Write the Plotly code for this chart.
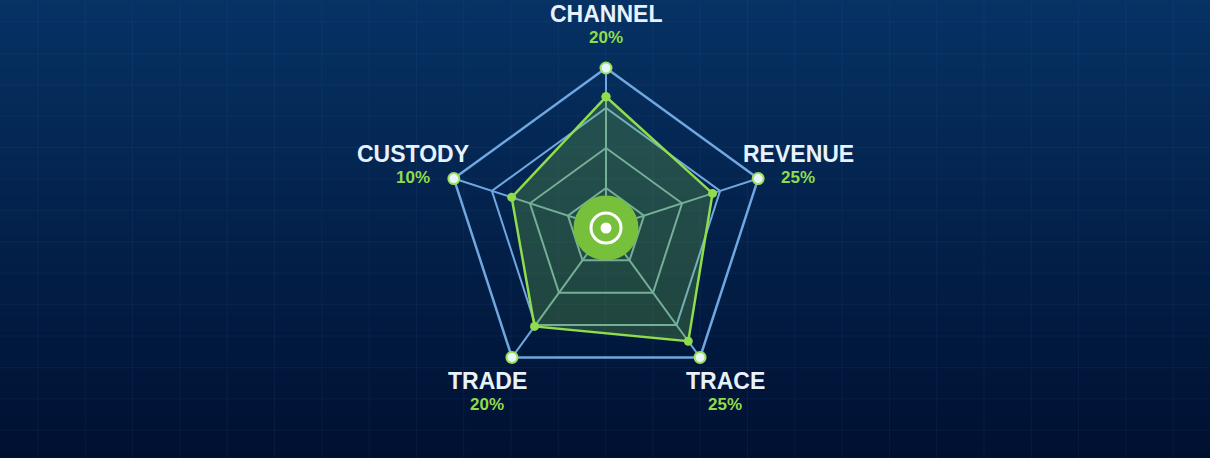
import plotly.graph_objects as go

axes = ["CHANNEL", "REVENUE", "TRACE", "TRADE", "CUSTODY"]
shares = ["20%", "25%", "25%", "20%", "10%"]
scores = [82, 70, 87.5, 76, 62]
inner_rings = [25, 50]
third_ring = 75
outer_level = [100, 100, 100, 100, 100]
label_x = [606, 798.5, 725, 487, 413]
label_y = [14, 154, 381, 381, 154]
share_y = [37, 177.5, 404, 404, 177.5]
grid_x = [38 + 47.3 * i for i in range(25)]
grid_y = [22 + 31.4 * i for i in range(14)]
W, H = 1210, 458
cx, cy, R = 606, 228, 160
pad = 1.1  # radial range beyond the outer ring so that it is not clipped

BLUE = "#6fa8e0"
TINT = "#70a7b4"   # grid colour where it lies under the green fill
GREEN = "#8fdc4c"
GRID = "rgba(110,160,220,0.07)"

fig = go.Figure()

# background gradient + faint grid on a full-bleed cartesian plot
fig.add_trace(go.Heatmap(
    x=[0, W], y=[0, H], z=[[0, 0], [1, 1]],
    colorscale=[[0, "#063264"], [1, "#001031"]],
    zsmooth="best", showscale=False, hoverinfo="skip",
))
vx, vy = [], []
for x in grid_x:
    vx += [x, x, None]
    vy += [0, H, None]
hx, hy = [], []
for y in grid_y:
    hx += [0, W, None]
    hy += [y, y, None]
fig.add_trace(go.Scatter(x=vx, y=vy, mode="lines", line=dict(color=GRID, width=1), hoverinfo="skip"))
fig.add_trace(go.Scatter(x=hx, y=hy, mode="lines", line=dict(color=GRID, width=1), hoverinfo="skip"))
fig.update_xaxes(range=[0, W], domain=[0, 1], visible=False)
fig.update_yaxes(range=[H, 0], domain=[0, 1], visible=False)

theta = axes + axes[:1]
line_style = dict(mode="lines", hoverinfo="skip")

for name, value, score in zip(axes, outer_level, scores):
    fig.add_trace(go.Scatterpolar(r=[0, score], theta=[name, name],
                                  line=dict(color=TINT, width=2), **line_style))
    fig.add_trace(go.Scatterpolar(r=[score, value], theta=[name, name],
                                  line=dict(color=BLUE, width=2), **line_style))
for level in inner_rings:
    fig.add_trace(go.Scatterpolar(r=[level] * 6, theta=theta,
                                  line=dict(color=TINT, width=2), **line_style))
fig.add_trace(go.Scatterpolar(r=[third_ring] * 5,
                              theta=["TRADE", "CUSTODY", "CHANNEL", "REVENUE", "TRACE"],
                              line=dict(color=BLUE, width=2), **line_style))
fig.add_trace(go.Scatterpolar(r=[third_ring] * 2, theta=["TRACE", "TRADE"],
                              line=dict(color=TINT, width=2), **line_style))
fig.add_trace(go.Scatterpolar(r=outer_level + outer_level[:1], theta=theta,
                              line=dict(color=BLUE, width=2.5), **line_style))
fig.add_trace(go.Scatterpolar(r=scores + scores[:1], theta=theta, mode="lines+markers",
                              line=dict(color=GREEN, width=2.5),
                              marker=dict(color=GREEN, size=9),
                              fill="toself", fillcolor="rgba(126,200,60,0.25)",
                              hoverinfo="skip"))
fig.add_trace(go.Scatterpolar(r=outer_level, theta=axes, mode="markers",
                              marker=dict(color="#e8f5ff", size=11,
                                          line=dict(color="#9be05a", width=2)),
                              hoverinfo="skip"))

hub = [
    dict(type="circle", x0=cx - 32.5, x1=cx + 32.5, y0=cy - 32.5, y1=cy + 32.5,
         fillcolor="#76c03c", line=dict(width=0), xref="x", yref="y", layer="above"),
    dict(type="circle", x0=cx - 15, x1=cx + 15, y0=cy - 15, y1=cy + 15,
         fillcolor="rgba(0,0,0,0)", line=dict(color="white", width=3), xref="x", yref="y", layer="above"),
    dict(type="circle", x0=cx - 5.5, x1=cx + 5.5, y0=cy - 5.5, y1=cy + 5.5,
         fillcolor="white", line=dict(width=0), xref="x", yref="y", layer="above"),
]

annotations = []
for name, share, x, y, y2 in zip(axes, shares, label_x, label_y, share_y):
    annotations.append(dict(text=f"<b>{name}</b>", x=x / W, y=1 - y / H, xref="paper", yref="paper",
                            showarrow=False, xanchor="center", yanchor="middle",
                            font=dict(family="Liberation Sans", size=23, color="#e8f2fc")))
    annotations.append(dict(text=f"<b>{share}</b>", x=x / W, y=1 - y2 / H, xref="paper", yref="paper",
                            showarrow=False, xanchor="center", yanchor="middle",
                            font=dict(family="Liberation Sans", size=17, color=GREEN)))

D = R * pad
fig.update_layout(
    width=W, height=H, margin=dict(l=0, r=0, t=0, b=0),
    paper_bgcolor="#001031", plot_bgcolor="rgba(0,0,0,0)", showlegend=False,
    annotations=annotations, shapes=hub,
    polar=dict(
        domain=dict(x=[(cx - D) / W, (cx + D) / W], y=[1 - (cy + D) / H, 1 - (cy - D) / H]),
        bgcolor="rgba(0,0,0,0)", gridshape="linear",
        radialaxis=dict(range=[0, 100 * pad], visible=False),
        angularaxis=dict(categoryorder="array", categoryarray=axes, direction="clockwise",
                         rotation=90, visible=False),
    ),
)
fig.write_html("out.html", config=dict(displayModeBar=False),
               post_script="document.body.style.margin='0';document.body.style.overflow='hidden';")
